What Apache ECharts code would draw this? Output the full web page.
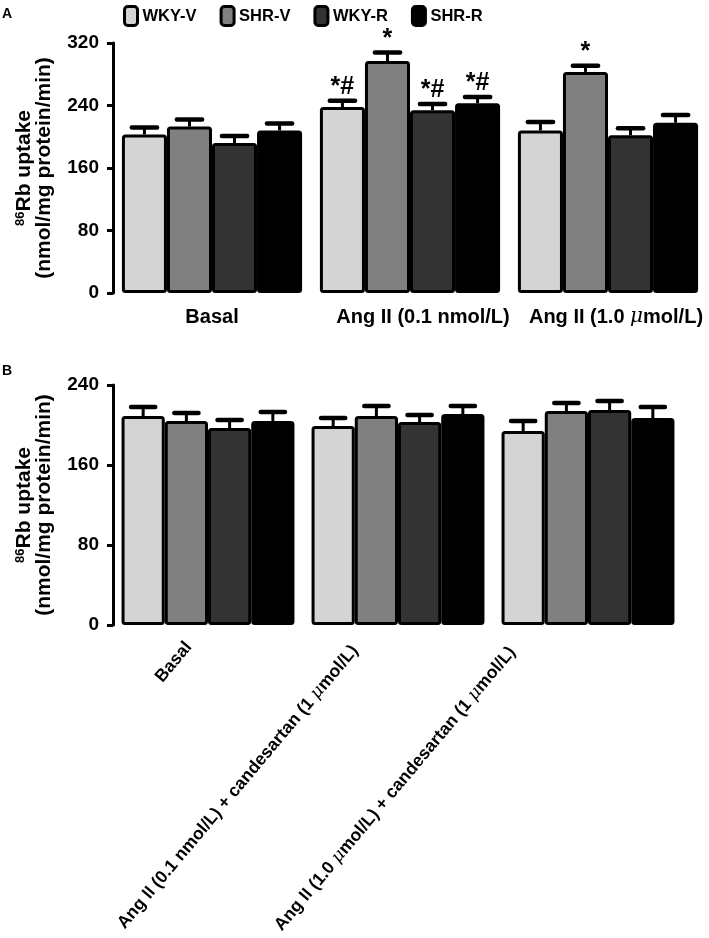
<!DOCTYPE html>
<html><head><meta charset="utf-8">
<script src="https://cdn.jsdelivr.net/npm/echarts@6/dist/echarts.min.js"></script>
<style>html,body{margin:0;padding:0;background:#fff}#c{width:709px;height:938px}</style>
</head><body><div id="c"></div>
<script>
// ---- data ----
const seriesNames = ['WKY-V', 'SHR-V', 'WKY-R', 'SHR-R'];
const seriesColors = ['#d4d4d4', '#808080', '#333333', '#000000'];

const categoriesA = ['Basal', 'Ang II (0.1 nmol/L)', 'Ang II (1.0 μmol/L)'];
const wkyV_A = [203, 238, 208];
const shrV_A = [213, 297, 283];
const wkyR_A = [192, 234, 202];
const shrR_A = [208, 243, 218];
const wkyV_A_err = [9, 8, 11];
const shrV_A_err = [9, 11, 8];
const wkyR_A_err = [9, 8, 9];
const shrR_A_err = [9, 8, 10];
const wkyV_A_sig = ['', '*#', ''];
const shrV_A_sig = ['', '*', '*'];
const wkyR_A_sig = ['', '*#', ''];
const shrR_A_sig = ['', '*#', ''];
const yTicksA = [0, 80, 160, 240, 320];

const categoriesB = ['Basal', 'Ang II (0.1 nmol/L) + candesartan (1 μmol/L)', 'Ang II (1.0 μmol/L) + candesartan (1 μmol/L)'];
const wkyV_B = [209, 199, 194];
const shrV_B = [204, 209, 214];
const wkyR_B = [197, 203, 215];
const shrR_B = [204, 211, 207];
const wkyV_B_err = [9, 8, 10];
const shrV_B_err = [8, 10, 8];
const wkyR_B_err = [8, 7, 9];
const shrR_B_err = [9, 8, 11];
const yTicksB = [0, 80, 160, 240];

// ---- layout constants ----
const FONT = '"Liberation Sans", Arial, sans-serif';
const CAT_GAP = 0.09;
const padA = [[0, 0, 0, 0], [0, 0, 0, 26], [0, 0, 0, 16]];
const padB = [[0, 21, 15, 0], [0, 39, 47, 0], [0, 61, 95, 0]];

const valsA = [wkyV_A, shrV_A, wkyR_A, shrR_A];
const errsA = [wkyV_A_err, shrV_A_err, wkyR_A_err, shrR_A_err];
const sigsA = [wkyV_A_sig, shrV_A_sig, wkyR_A_sig, shrR_A_sig];
const valsB = [wkyV_B, shrV_B, wkyR_B, shrR_B];
const errsB = [wkyV_B_err, shrV_B_err, wkyR_B_err, shrR_B_err];

function muFmt(v) { return v.replace(/μ/g, '{mu|μ}'); }

function errRender(pos, sigs) {
  return function (params, api) {
    const c = api.value(0), v = api.value(1), e = api.value(2);
    const band = api.size([1, 0])[0];
    const bw = band * (1 - CAT_GAP) / 4;
    const b = api.coord([c, v]);
    const t = api.coord([c, v + e]);
    const x = b[0] + (pos - 1.5) * bw;
    const half = bw * 0.28;
    const children = [
      { type: 'line', shape: { x1: x, y1: b[1], x2: x, y2: t[1] }, style: { stroke: '#000', lineWidth: 3 } },
      { type: 'line', shape: { x1: x - half, y1: t[1], x2: x + half, y2: t[1] }, style: { stroke: '#000', lineWidth: 4.5, lineCap: 'round' } }
    ];
    const s = sigs ? sigs[params.dataIndex] : '';
    if (s) {
      children.push({ type: 'text', style: { text: s, x: x, y: t[1] - 1, align: 'center', verticalAlign: 'bottom', font: 'bold 25px ' + FONT, fill: '#000' } });
    }
    return { type: 'group', children: children };
  };
}

const series = [];
function addPanel(idx, vals, errs, sigs) {
  vals.forEach((arr, i) => {
    series.push({
      name: seriesNames[i], type: 'bar', xAxisIndex: idx, yAxisIndex: idx,
      data: arr, barGap: '0%', barCategoryGap: (CAT_GAP * 100) + '%',
      itemStyle: { color: seriesColors[i], borderColor: '#000', borderWidth: 3, borderRadius: 2 },
      emphasis: { disabled: true }
    });
  });
  vals.forEach((arr, i) => {
    series.push({
      type: 'custom', xAxisIndex: idx, yAxisIndex: idx, z: 5,
      data: arr.map((v, k) => [k, v, errs[i][k]]),
      renderItem: errRender(i, sigs ? sigs[i] : null)
    });
  });
}
addPanel(0, valsA, errsA, sigsA);
addPanel(1, valsB, errsB, null);

const yName = '{sup|86}{b|Rb uptake}\n{b|(nmol/mg protein/min)}';
function yAxis(idx, max) {
  return {
    type: 'value', gridIndex: idx, min: 0, max: max, interval: 80,
    name: yName, nameLocation: 'middle', nameRotate: 90, nameGap: 59,
    nameTextStyle: {
      lineHeight: 20,
      rich: {
        sup: { fontSize: 13, fontWeight: 'bold', fontFamily: FONT, color: '#000', verticalAlign: 'top', lineHeight: 20 },
        b: { fontSize: 21, fontWeight: 'bold', fontFamily: FONT, color: '#000', lineHeight: 20 }
      }
    },
    axisLine: { show: true, lineStyle: { color: '#000', width: 3 } },
    axisTick: { show: true, length: 6, lineStyle: { color: '#000', width: 3 } },
    splitLine: { show: false },
    axisLabel: { color: '#000', fontSize: 19, fontWeight: 'bold', fontFamily: FONT, margin: 14 }
  };
}

const option = {
  animation: false,
  backgroundColor: '#fff',
  textStyle: { fontFamily: FONT },
  title: [
    { text: 'A', left: 2, top: 7, padding: 0, textStyle: { fontSize: 14, fontWeight: 'bold', color: '#000', fontFamily: FONT } },
    { text: 'B', left: 2, top: 364, padding: 0, textStyle: { fontSize: 14, fontWeight: 'bold', color: '#000', fontFamily: FONT } }
  ],
  legend: {
    data: seriesNames, top: 0, left: 118, itemWidth: 13, itemHeight: 19, itemGap: 23,
    icon: 'roundRect', selectedMode: false,
    itemStyle: { borderColor: '#000', borderWidth: 3 },
    textStyle: { fontSize: 16.5, fontWeight: 'bold', fontFamily: FONT, color: '#000' }
  },
  grid: [
    { left: 113, right: 2, top: 43, height: 250, outerBoundsMode: 'none' },
    { left: 113, width: 570, top: 385, height: 240, outerBoundsMode: 'none' }
  ],
  xAxis: [
    {
      type: 'category', gridIndex: 0,
      data: categoriesA.map((v, i) => ({ value: v, textStyle: { padding: padA[i] } })),
      axisLine: { show: false }, axisTick: { show: false },
      axisLabel: { color: '#000', fontSize: 20, fontWeight: 'bold', fontFamily: FONT, margin: 14, interval: 0, formatter: muFmt,
        rich: { mu: { fontSize: 20, fontFamily: '"DejaVu Serif", serif', fontStyle: 'italic', fontWeight: 'normal', color: '#000' } } }
    },
    {
      type: 'category', gridIndex: 1,
      data: categoriesB.map((v, i) => ({ value: v, textStyle: { padding: padB[i] } })),
      axisLine: { show: false }, axisTick: { show: false },
      axisLabel: { color: '#000', fontSize: 17.5, fontWeight: 'bold', fontFamily: FONT, margin: 8, interval: 0, rotate: 50, formatter: muFmt,
        rich: { mu: { fontSize: 17.5, fontFamily: '"DejaVu Serif", serif', fontStyle: 'italic', fontWeight: 'normal', color: '#000' } } }
    }
  ],
  yAxis: [yAxis(0, 320), yAxis(1, 240)],
  series: series
};

const chart = echarts.init(document.getElementById('c'), null, { renderer: 'canvas' });
chart.setOption(option);
</script>
</body></html>
